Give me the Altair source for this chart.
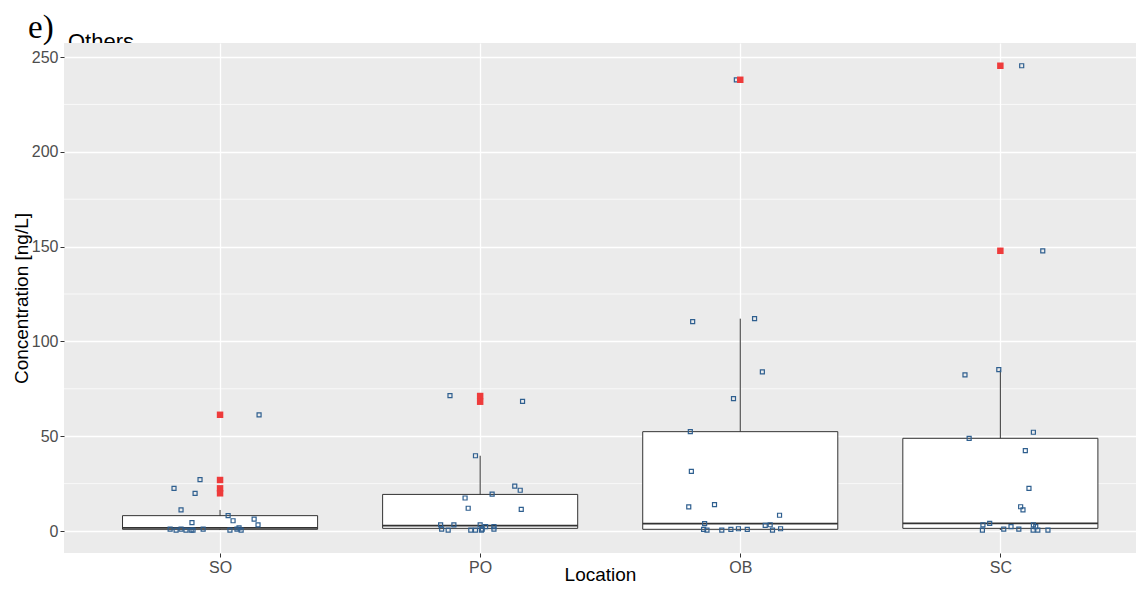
import altair as alt
import pandas as pd

# ---------------- data ----------------
locations = ["SO", "PO", "OB", "SC"]

# jittered raw points: x = category index + jitter offset, y = concentration
so_off = [0.150, -0.077, -0.177, -0.096, -0.150, -0.108, 0.031, 0.050, 0.131, 0.146,
          -0.192, -0.169, -0.150, -0.131, -0.111, -0.104, -0.065, 0.038, 0.065, 0.073, 0.081]
so_val = [61.3, 27.1, 22.5, 19.9, 11.1, 4.4, 8.1, 5.4, 6.3, 3.2,
          1.0, 0.5, 1.0, 0.5, 0.5, 0.5, 1.0, 0.5, 1.0, 1.6, 0.5]

po_off = [-0.116, 0.163, -0.018, 0.133, 0.154, 0.046, -0.058, -0.046, 0.158, -0.152,
          -0.148, -0.123, -0.101, -0.036, -0.018, 0.000, 0.008, 0.005, 0.021, 0.053, 0.053]
po_val = [71.4, 68.4, 39.7, 23.7, 21.5, 19.5, 17.4, 12.0, 11.4, 3.2,
          1.0, 0.5, 3.2, 0.5, 0.5, 3.2, 1.0, 0.5, 2.3, 2.3, 1.0]

ob_off = [-0.183, 0.055, 0.085, -0.026, -0.192, -0.188, -0.198, -0.099, 0.151, -0.137,
          -0.141, -0.128, -0.071, -0.036, -0.007, 0.027, 0.096, 0.115, 0.124, 0.155, -0.015]
ob_val = [110.4, 112.0, 83.9, 69.8, 52.4, 31.5, 12.7, 13.9, 8.3, 3.9,
          0.9, 0.5, 0.5, 0.9, 1.2, 0.9, 3.0, 3.3, 0.5, 1.2, 238.0]

sc_off = [-0.136, -0.006, -0.120, 0.127, 0.096, 0.110, 0.078, 0.087, -0.067, -0.041,
          -0.069, 0.013, 0.041, 0.071, 0.127, 0.136, 0.126, 0.144, 0.183, 0.082, 0.163]
sc_val = [82.3, 85.1, 48.9, 52.1, 42.4, 22.5, 12.8, 11.1, 3.2, 4.0,
          0.5, 1.0, 2.3, 1.0, 3.2, 2.3, 0.5, 0.5, 0.5, 245.4, 147.8]

# boxplot statistics per location
box_q1 = [0.9, 1.4, 0.9, 1.4]
box_med = [1.7, 2.8, 3.9, 4.0]
box_q3 = [8.1, 19.3, 52.4, 48.9]
box_lo = [0.5, 0.5, 0.5, 0.5]
box_hi = [11.1, 39.7, 112.0, 85.1]

# outliers (drawn at the category centre)
out_loc = ["SO", "SO", "SO", "SO", "PO", "PO", "OB", "SC", "SC"]
out_val = [61.3, 26.9, 22.5, 19.9, 71.2, 68.2, 238.0, 245.4, 147.8]

y_ticks = [0, 50, 100, 150, 200, 250]
y_minor = [25, 75, 125, 175, 225]

# ---------------- tables ----------------
rows = []
for i, (offs, vals) in enumerate([(so_off, so_val), (po_off, po_val),
                                   (ob_off, ob_val), (sc_off, sc_val)]):
    for o, v in zip(offs, vals):
        rows.append({"x": i + 1 + o, "value": v, "loc": locations[i]})
pts = pd.DataFrame(rows)

boxes = pd.DataFrame({
    "pos": [1, 2, 3, 4], "loc": locations,
    "q1": box_q1, "med": box_med, "q3": box_q3, "lo": box_lo, "hi": box_hi,
})
outs = pd.DataFrame({"pos": [locations.index(l) + 1 for l in out_loc], "value": out_val})
minor = pd.DataFrame({"v": y_minor})
one = pd.DataFrame({"a": [0]})

HALF = 0.375
XDOM = [0.4, 4.5215]
YDOM = [-11.6, 257.4]

label_expr = "datum.value == 1 ? 'SO' : datum.value == 2 ? 'PO' : datum.value == 3 ? 'OB' : 'SC'"
X_AXIS = alt.Axis(
    title="Location", values=[1, 2, 3, 4], labelExpr=label_expr,
    grid=True, gridColor="white", gridWidth=1.3,
    domain=False, tickColor="#333333", tickSize=4, tickWidth=1,
    labelFont="Liberation Sans", labelFontSize=16, labelColor="#4D4D4D", labelPadding=2,
    titleFont="Liberation Sans", titleFontSize=19, titleFontWeight="normal",
    titleColor="black", titleY=27, titleBaseline="alphabetic",
)
Y_AXIS = alt.Axis(
    title="Concentration [ng/L]", values=y_ticks,
    grid=True, gridColor="white", gridWidth=1.3,
    domain=False, tickColor="#333333", tickSize=4, tickWidth=1,
    labelFont="Liberation Sans", labelFontSize=16, labelColor="#4D4D4D", labelPadding=2,
    titleFont="Liberation Sans", titleFontSize=19, titleFontWeight="normal",
    titleColor="black", titlePadding=0,
)
XS = alt.Scale(domain=XDOM, nice=False, zero=False)
YS = alt.Scale(domain=YDOM, nice=False, zero=False)

minor_grid = alt.Chart(minor).mark_rule(color="white", strokeWidth=0.7).encode(
    y=alt.Y("v:Q", scale=YS, axis=Y_AXIS),
)

box_rect = alt.Chart(boxes).transform_calculate(
    xl=f"datum.pos - {HALF}", xr=f"datum.pos + {HALF}"
).mark_rect(fill="white", stroke="#333333", strokeWidth=1).encode(
    x=alt.X("xl:Q", scale=XS, axis=X_AXIS), x2="xr:Q",
    y=alt.Y("q1:Q", scale=YS, axis=Y_AXIS), y2="q3:Q",
)
whisk_hi = alt.Chart(boxes).mark_rule(color="#333333", strokeWidth=1).encode(
    x=alt.X("pos:Q", scale=XS, axis=X_AXIS),
    y=alt.Y("q3:Q", scale=YS, axis=Y_AXIS), y2="hi:Q",
)
whisk_lo = alt.Chart(boxes).mark_rule(color="#333333", strokeWidth=1).encode(
    x=alt.X("pos:Q", scale=XS, axis=X_AXIS),
    y=alt.Y("lo:Q", scale=YS, axis=Y_AXIS), y2="q1:Q",
)
median = alt.Chart(boxes).transform_calculate(
    xl=f"datum.pos - {HALF}", xr=f"datum.pos + {HALF}"
).mark_rule(color="#333333", strokeWidth=1.8).encode(
    x=alt.X("xl:Q", scale=XS, axis=X_AXIS), x2="xr:Q",
    y=alt.Y("med:Q", scale=YS, axis=Y_AXIS),
)
points = alt.Chart(pts).mark_point(
    shape="square", filled=False, size=16, stroke="#2F5F8F", strokeWidth=1.2, opacity=1
).encode(
    x=alt.X("x:Q", scale=XS, axis=X_AXIS),
    y=alt.Y("value:Q", scale=YS, axis=Y_AXIS),
)
outliers = alt.Chart(outs).mark_square(size=42, color="#EE3B3B", opacity=1).encode(
    x=alt.X("pos:Q", scale=XS, axis=X_AXIS),
    y=alt.Y("value:Q", scale=YS, axis=Y_AXIS),
)

# panel title "e) Others" whose second word is partly hidden by the panel
t_e = alt.Chart(one).mark_text(
    font="Liberation Serif", fontSize=33, align="left", baseline="alphabetic", color="black"
).encode(x=alt.value(-36), y=alt.value(-5), text=alt.value("e)"))
t_others = alt.Chart(one).mark_text(
    font="Liberation Sans", fontSize=22, align="left", baseline="alphabetic", color="black"
).encode(x=alt.value(4), y=alt.value(6), text=alt.value("Others"))
cover = alt.Chart(one).mark_rect(fill="#EBEBEB").encode(
    x=alt.value(0), x2=alt.value(90), y=alt.value(0), y2=alt.value(12)
)

chart = alt.layer(
    minor_grid, box_rect, whisk_hi, whisk_lo, median, points, outliers,
    t_e, t_others, cover,
).properties(
    width=1072, height=510,
    autosize=alt.AutoSizeParams(type="none"),
    padding={"left": 56, "top": 35, "right": 0, "bottom": 32},
    background="white",
).configure_view(fill="#EBEBEB", stroke=None)

chart.save("out.html", embed_options={"renderer": "svg", "actions": False})
